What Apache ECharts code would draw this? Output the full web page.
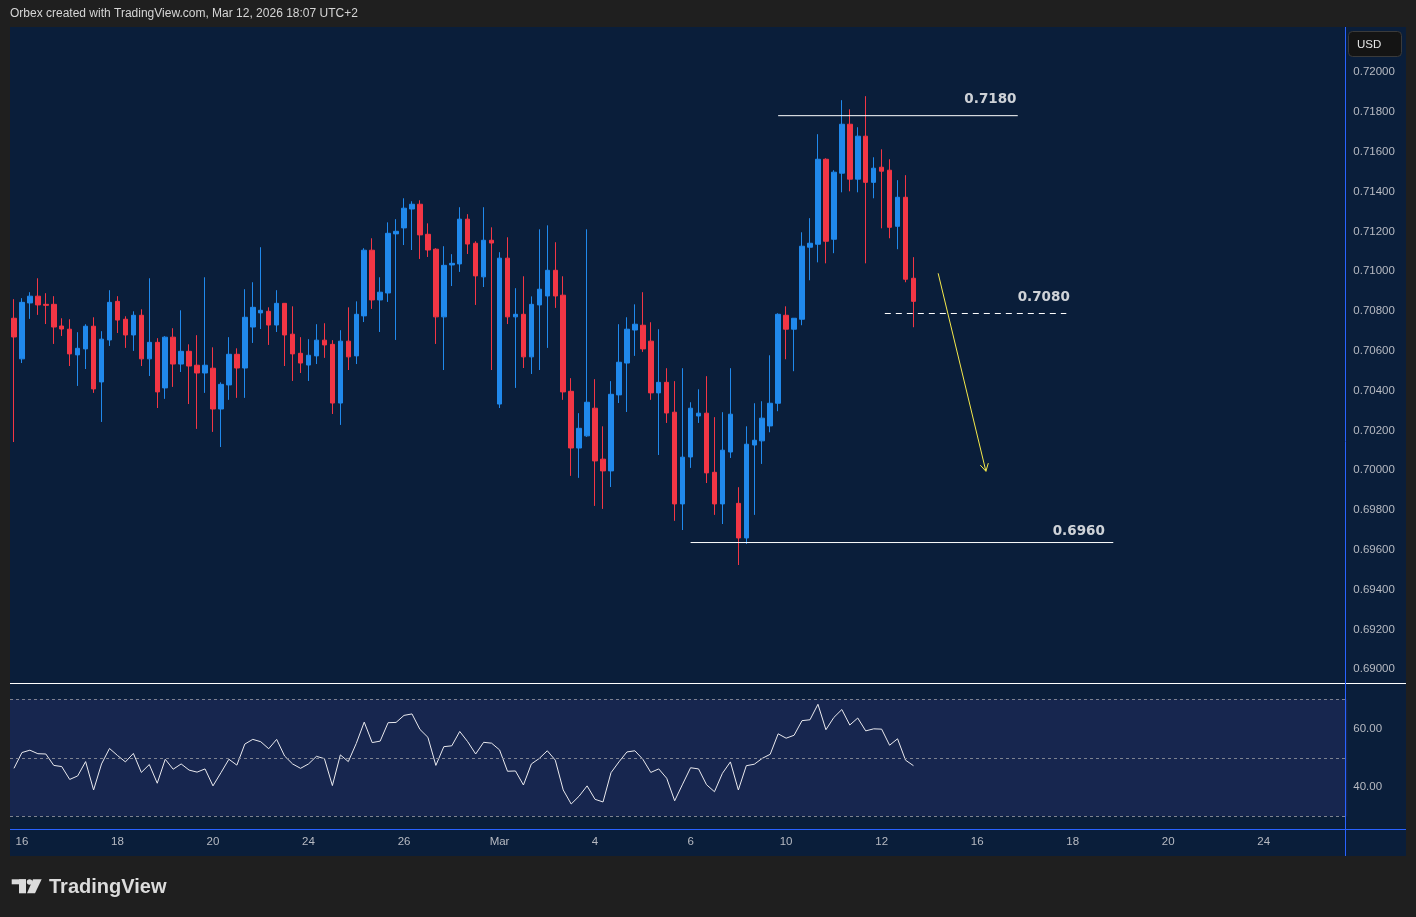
<!DOCTYPE html>
<html><head><meta charset="utf-8">
<script src="https://cdn.jsdelivr.net/npm/echarts@6/dist/echarts.min.js"></script>
<style>html,body{margin:0;padding:0;background:#1f1f1f;}#c{width:1416px;height:917px;}</style>
</head><body><div id="c"></div>
<script>
// ---- bars (4H) ----
const firstBar = 'Feb 13 20:00';
const tradingDays = ['Feb 16','Feb 17','Feb 18','Feb 19','Feb 20','Feb 23','Feb 24','Feb 25','Feb 26','Feb 27',
  'Mar 2','Mar 3','Mar 4','Mar 5','Mar 6','Mar 9','Mar 10','Mar 11','Mar 12','Mar 13',
  'Mar 16','Mar 17','Mar 18','Mar 19','Mar 20','Mar 23','Mar 24','Mar 25'];
const barHours = ['00:00','04:00','08:00','12:00','16:00','20:00'];
const tickLabels = {'Feb 16':'16','Feb 18':'18','Feb 20':'20','Feb 24':'24','Feb 26':'26','Mar 2':'Mar','Mar 4':'4',
  'Mar 6':'6','Mar 10':'10','Mar 12':'12','Mar 16':'16','Mar 18':'18','Mar 20':'20','Mar 24':'24'};

const opens = [0.70764,0.70560,0.70841,0.70875,0.70834,0.70834,0.70725,0.70709,0.70580,0.70610,
0.70724,0.70444,0.70655,0.70849,0.70759,0.70680,0.70779,0.70560,0.70643,0.70414,
0.70669,0.70534,0.70598,0.70528,0.70489,0.70513,0.70308,0.70429,0.70583,0.70514,
0.70720,0.70791,0.70799,0.70730,0.70839,0.70684,0.70588,0.70529,0.70575,0.70654,
0.70633,0.70338,0.70649,0.70575,0.70776,0.71106,0.70856,0.70891,0.71188,0.71218,
0.71313,0.71337,0.71186,0.71111,0.70771,0.71032,0.71037,0.71262,0.71141,0.70972,
0.71156,0.70333,0.71066,0.70771,0.70784,0.70570,0.70831,0.70876,0.71005,0.70880,
0.70397,0.70112,0.70173,0.70312,0.70056,0.69997,0.70379,0.70539,0.70705,0.70729,
0.70649,0.70389,0.70442,0.70292,0.69831,0.70067,0.70273,0.70287,0.69990,0.69831,
0.70092,0.69834,0.69660,0.70127,0.70148,0.70223,0.70337,0.70779,0.70709,0.70759,
0.71121,0.71136,0.71563,0.71161,0.71493,0.71739,0.71463,0.71679,0.71447,0.71523,
0.71508,0.71226,0.71372,0.70965];
const closes = [0.70670,0.70844,0.70875,0.70831,0.70829,0.70720,0.70710,0.70585,0.70613,0.70724,
0.70409,0.70659,0.70844,0.70755,0.70680,0.70779,0.70560,0.70643,0.70394,0.70669,
0.70534,0.70598,0.70524,0.70489,0.70528,0.70308,0.70432,0.70583,0.70514,0.70769,
0.70819,0.70804,0.70730,0.70839,0.70680,0.70585,0.70539,0.70578,0.70654,0.70630,
0.70338,0.70649,0.70570,0.70784,0.71106,0.70856,0.70895,0.71191,0.71201,0.71317,
0.71337,0.71183,0.71107,0.70771,0.71030,0.71040,0.71262,0.71137,0.70977,0.71156,
0.71142,0.71066,0.70771,0.70784,0.70570,0.70834,0.70910,0.71005,0.70876,0.70394,
0.70112,0.70211,0.70342,0.70047,0.69997,0.70382,0.70543,0.70709,0.70734,0.70610,
0.70389,0.70442,0.70288,0.69831,0.70066,0.70312,0.70287,0.69987,0.69831,0.70101,
0.70282,0.69660,0.70131,0.70151,0.70262,0.70337,0.70784,0.70709,0.70764,0.71126,
0.71141,0.71563,0.71151,0.71498,0.71739,0.71463,0.71679,0.71447,0.71518,0.71503,
0.71221,0.71372,0.70960,0.70849];
const highs = [0.70860,0.70865,0.70895,0.70965,0.70890,0.70875,0.70764,0.70759,0.70694,0.70734,
0.70769,0.70699,0.70905,0.70875,0.70774,0.70799,0.70809,0.70965,0.70664,0.70674,
0.70714,0.70804,0.70633,0.70679,0.70970,0.70618,0.70442,0.70669,0.70613,0.70910,
0.70945,0.71121,0.70819,0.70905,0.70839,0.70824,0.70669,0.70659,0.70734,0.70739,
0.70654,0.70704,0.70819,0.70849,0.71116,0.71166,0.70970,0.71246,0.71262,0.71367,
0.71352,0.71357,0.71241,0.71116,0.71126,0.71086,0.71322,0.71287,0.71151,0.71322,
0.71221,0.71096,0.71171,0.70915,0.70975,0.70874,0.71211,0.71231,0.71146,0.70975,
0.70463,0.70287,0.71211,0.70458,0.70221,0.70448,0.70734,0.70769,0.70834,0.70895,
0.70744,0.70709,0.70513,0.70448,0.70513,0.70342,0.70407,0.70473,0.70267,0.70292,
0.70513,0.69915,0.70221,0.70337,0.70347,0.70578,0.70789,0.70824,0.70764,0.71196,
0.71267,0.71689,0.71568,0.71508,0.71860,0.71814,0.71724,0.71880,0.71573,0.71613,
0.71563,0.71458,0.71483,0.71071];
const lows = [0.70142,0.70539,0.70761,0.70781,0.70735,0.70635,0.70675,0.70524,0.70424,0.70509,
0.70389,0.70243,0.70625,0.70690,0.70615,0.70600,0.70524,0.70474,0.70313,0.70359,
0.70419,0.70494,0.70333,0.70208,0.70389,0.70193,0.70117,0.70354,0.70364,0.70364,
0.70640,0.70710,0.70630,0.70695,0.70524,0.70449,0.70489,0.70449,0.70534,0.70565,
0.70283,0.70228,0.70504,0.70534,0.70745,0.70811,0.70695,0.70846,0.70655,0.71132,
0.71107,0.71062,0.71072,0.70635,0.70504,0.70926,0.70997,0.71087,0.70831,0.70921,
0.70504,0.70313,0.70735,0.70414,0.70514,0.70484,0.70504,0.70615,0.70816,0.70354,
0.69972,0.69962,0.70168,0.69821,0.69806,0.69916,0.70338,0.70293,0.70575,0.70595,
0.70354,0.70077,0.70238,0.69746,0.69700,0.70012,0.70238,0.69936,0.69776,0.69730,
0.70062,0.69524,0.69630,0.69776,0.70032,0.70191,0.70297,0.70558,0.70498,0.70729,
0.70955,0.71045,0.71040,0.71091,0.71397,0.71402,0.71397,0.71040,0.71367,0.71216,
0.71166,0.71111,0.70945,0.70719];
const rsi = [46.4,51.8,52.6,51.4,51.3,47.4,47.0,42.6,43.8,48.7,
39.0,47.9,53.2,50.8,48.6,51.5,45.0,47.7,41.3,49.5,
46.1,47.9,45.8,45.1,46.2,40.4,44.9,49.5,47.5,54.7,
56.3,55.5,53.1,56.3,50.6,47.9,46.4,47.9,50.5,49.7,
40.5,51.0,48.7,54.9,62.2,55.2,55.7,62.0,62.1,64.5,
65.0,59.7,57.0,47.4,53.8,54.1,59.0,55.5,51.3,55.3,
55.0,52.7,45.4,45.5,40.7,47.9,49.8,52.4,49.2,39.0,
34.2,36.9,40.4,35.8,34.9,44.9,48.6,52.0,52.4,49.5,
45.0,46.2,43.0,35.3,41.0,46.6,46.2,40.8,38.4,44.7,
48.6,39.0,47.3,47.8,49.8,51.2,58.2,56.7,57.7,62.7,
63.0,68.3,59.6,63.8,66.5,61.2,63.6,59.2,59.9,59.8,
54.3,56.5,49.2,47.3];
const rsiLevels = [70, 50, 30];

// ---- drawings (x in bar-slot units, y in price) ----
const levels = [
  {text:'0.7180', price:0.71782, from:96.5, to:126.6, dashed:false, labelX:126.5, labelPrice:0.71865},
  {text:'0.7080', price:0.70788, from:109.9, to:132.7, dashed:true, labelX:133.2, labelPrice:0.70870},
  {text:'0.6960', price:0.69637, from:85.5, to:138.6, dashed:false, labelX:137.6, labelPrice:0.69693}
];
const arrowShaft = [[116.6,0.70990],[122.6,0.69995]];
const arrowHead = [[122.9,0.70036],[122.6,0.69995],[121.9,0.70026]];

// ---- build ----
const categories = [firstBar];
tradingDays.forEach(d => barHours.forEach(h => categories.push(d + ' ' + h)));
categories.length = 168;
const ohlc = opens.map((o, i) => [o, closes[i], lows[i], highs[i]]);

const FONT = '"Liberation Sans", Arial, sans-serif';
const TXT = '#b7bac2';
const UP = '#2089ec', DOWN = '#f23645';

const series = [
  {type:'candlestick', xAxisIndex:0, yAxisIndex:0, data:ohlc, barWidth:5,
   itemStyle:{color:UP, color0:DOWN, borderColor:UP, borderColor0:DOWN, borderWidth:1}},
  {type:'line', xAxisIndex:1, yAxisIndex:1, data:rsi, symbol:'none', silent:true,
   lineStyle:{color:'#e9e9ee', width:1},
   markLine:{silent:true, symbol:['none','none'], label:{show:false},
     lineStyle:{color:'#7d8290', type:[3,3], width:1},
     data: rsiLevels.map(v => ({yAxis:v}))}}
];
levels.forEach(l => {
  series.push({type:'line', xAxisIndex:2, yAxisIndex:0, symbol:'none', silent:true,
    data:[[l.from, l.price],[l.to, l.price]],
    lineStyle:{color:'#ffffff', width:1, type: l.dashed ? [6,5] : 'solid'}});
  series.push({type:'scatter', xAxisIndex:2, yAxisIndex:0, silent:true, symbolSize:1,
    itemStyle:{color:'rgba(0,0,0,0)'},
    data:[[l.labelX, l.labelPrice]],
    label:{show:true, position:'left', distance:0, formatter:l.text, color:'#ffffff',
      fontFamily:'"DejaVu Sans", sans-serif', fontWeight:'bold', fontSize:13.5}});
});
series.push({type:'line', xAxisIndex:2, yAxisIndex:0, symbol:'none', silent:true, data:arrowShaft,
  lineStyle:{color:'#f5e94a', width:1}});
series.push({type:'line', xAxisIndex:2, yAxisIndex:0, symbol:'none', silent:true, data:arrowHead,
  lineStyle:{color:'#f5e94a', width:1}});

const chart = echarts.init(document.getElementById('c'), null, {renderer:'canvas'});
chart.setOption({
  animation:false,
  backgroundColor:'#1f1f1f',
  textStyle:{fontFamily:FONT},
  grid:[
    {left:10, right:68.7, top:32.5, bottom:247.7, outerBoundsMode:'none'},
    {left:10, right:68.7, top:699.3, bottom:100.7, show:true, backgroundColor:'#17264f', borderWidth:0, outerBoundsMode:'none'}
  ],
  xAxis:[
    {type:'category', gridIndex:0, data:categories, show:false},
    {type:'category', gridIndex:1, data:categories, axisLine:{show:false}, axisTick:{show:false},
     axisLabel:{interval:0, margin:20, color:TXT, fontSize:11.5, fontFamily:FONT,
       formatter:v => v.endsWith(' 00:00') ? (tickLabels[v.slice(0,-6)] || '') : ''}},
    {type:'value', gridIndex:0, min:0, max:168, show:false}
  ],
  yAxis:[
    {type:'value', gridIndex:0, position:'right', min:0.690, max:0.722, interval:0.002,
     axisLine:{show:false}, axisTick:{show:false}, splitLine:{show:false},
     axisLabel:{margin:6, color:TXT, fontSize:11.5, fontFamily:FONT,
       formatter:v => v > 0.7205 ? '' : v.toFixed(5)}},
    {type:'value', gridIndex:1, position:'right', min:30, max:70, interval:10,
     axisLine:{show:false}, axisTick:{show:false}, splitLine:{show:false},
     axisLabel:{margin:6, color:TXT, fontSize:11.5, fontFamily:FONT,
       formatter:v => (v === 40 || v === 60) ? v.toFixed(2) : ''}}
  ],
  series: series,
  graphic:[
    {type:'rect', z:-10, silent:true, shape:{x:10, y:27, width:1396, height:829}, style:{fill:'#0a1e3a'}},
    {type:'line', z:100, silent:true, shape:{x1:10, y1:683.5, x2:1406, y2:683.5}, style:{stroke:'#ffffff', lineWidth:1}},
    {type:'line', z:100, silent:true, shape:{x1:1345.5, y1:27, x2:1345.5, y2:856}, style:{stroke:'#2962ff', lineWidth:1}},
    {type:'line', z:100, silent:true, shape:{x1:10, y1:829.5, x2:1406, y2:829.5}, style:{stroke:'#2962ff', lineWidth:1}},
    {type:'rect', z:100, silent:true, shape:{x:1348.5, y:31.5, width:53, height:25, r:4},
     style:{fill:'#141414', stroke:'#3a3a3a', lineWidth:1}},
    {type:'text', z:101, silent:true, x:1357, y:44.5,
     style:{text:'USD', fill:'#e6e6e6', font:'11.5px ' + FONT, verticalAlign:'middle'}},
    {type:'text', z:101, silent:true, x:10, y:14,
     style:{text:'Orbex created with TradingView.com, Mar 12, 2026 18:07 UTC+2', fill:'#d6d6d6', font:'12px ' + FONT, verticalAlign:'middle'}},
    {type:'rect', z:101, silent:true, shape:{x:11.7, y:879.3, width:14.3, height:5}, style:{fill:'#dcdcdc'}},
    {type:'rect', z:101, silent:true, shape:{x:19, y:879.3, width:7, height:14}, style:{fill:'#dcdcdc'}},
    {type:'circle', z:101, silent:true, shape:{cx:29.6, cy:882, r:2.8}, style:{fill:'#dcdcdc'}},
    {type:'polygon', z:101, silent:true, shape:{points:[[33,879.3],[41.7,879.3],[35,893.3],[27,893.3]]}, style:{fill:'#dcdcdc'}},
    {type:'text', z:101, silent:true, x:49, y:887,
     style:{text:'TradingView', fill:'#dcdcdc', font:'bold 20px ' + FONT, verticalAlign:'middle'}}
  ]
});
</script></body></html>
